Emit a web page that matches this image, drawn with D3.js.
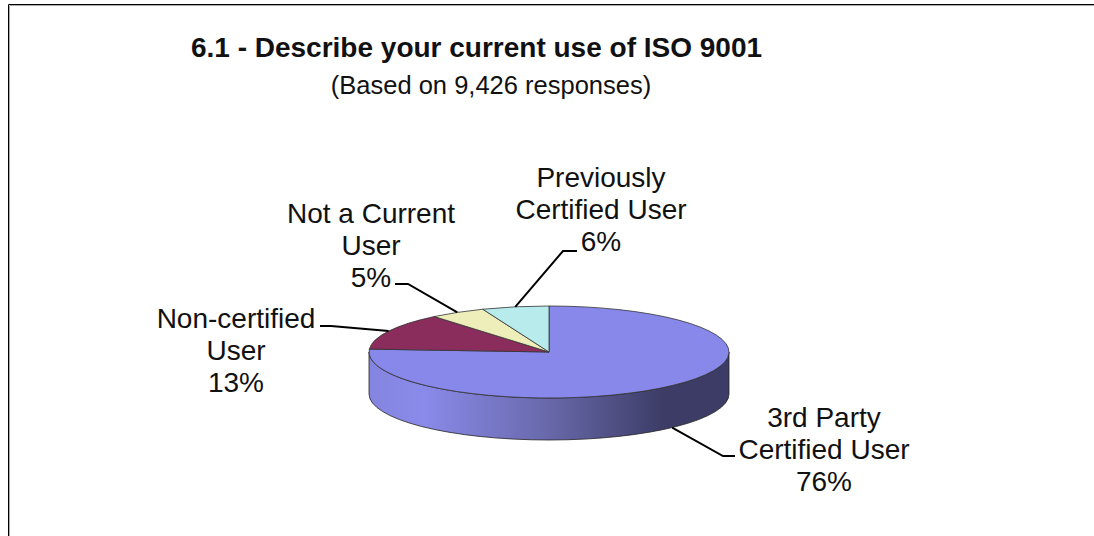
<!DOCTYPE html>
<html>
<head>
<meta charset="utf-8">
<script src="https://cdn.jsdelivr.net/npm/d3@7"></script>
<style>
  html, body { margin: 0; padding: 0; background: #fff; overflow: hidden; }
  svg { display: block; }
  text { font-family: "Liberation Sans", Arial, sans-serif; fill: #111; }
</style>
</head>
<body>
<svg id="chart" width="1094" height="536"></svg>
<script>
const title = "6.1 - Describe your current use of ISO 9001";
const subtitle = "(Based on 9,426 responses)";

const categories = [
    ["3rd Party", "Certified User"],
    ["Non-certified", "User"],
    ["Not a Current", "User"],
    ["Previously", "Certified User"]
];
const shares = [76, 13, 5, 6];
const colors = ["#8888ea", "#8a2c5c", "#eeeebb", "#b8ecec"];

// where each label block sits and where its leader bends
const labelX = [824, 236, 371, 601];
const labelY = [427, 328, 223, 187];
const elbows = [[[735, 456], [723, 456]], [[320, 326], [331, 326]], [[395, 284], [408, 284]], [[577, 251], [563, 251]]];

const cx = 549, cy = 352, rx = 180, ry = 46, depth = 42;
const lineGap = 32;

const svg = d3.select("#chart");

// frame, open on the right and at the bottom
svg.append("path").attr("d", "M1094,5.5H9.5V536").attr("fill", "none").attr("stroke", "#aaa");
svg.append("path").attr("d", "M1094,4.5H8.5V536").attr("fill", "none").attr("stroke", "#000");

svg.append("text")
    .attr("x", 476.5).attr("y", 57)
    .attr("text-anchor", "middle")
    .attr("font-size", 28).attr("font-weight", "bold")
    .text(title);

svg.append("text")
    .attr("x", 491).attr("y", 94)
    .attr("text-anchor", "middle")
    .attr("font-size", 25.5)
    .text(subtitle);

const grad = svg.append("defs").append("linearGradient")
    .attr("id", "wall")
    .attr("gradientUnits", "userSpaceOnUse")
    .attr("x1", cx - rx).attr("x2", cx + rx).attr("y1", 0).attr("y2", 0);
grad.selectAll("stop")
    .data([[0, "#8484e0"], [0.15, "#8a8aea"], [0.5, "#6868aa"], [0.82, "#3c3c66"], [1, "#3c3c66"]])
    .join("stop")
    .attr("offset", d => d[0])
    .attr("stop-color", d => d[1]);

// side of the disc
svg.append("path")
    .attr("d", `M${cx + rx},${cy}V${cy + depth}A${rx},${ry} 0 0 1 ${cx - rx},${cy + depth}V${cy}A${rx},${ry} 0 0 0 ${cx + rx},${cy}Z`)
    .attr("fill", "url(#wall)")
    .attr("stroke", "#222")
    .attr("stroke-width", 0.8);

const slices = d3.pie().sort(null).value(d => d)(shares);
const arc = d3.arc().innerRadius(0).outerRadius(rx);

svg.append("g")
    .attr("transform", `translate(${cx},${cy}) scale(1,${ry / rx})`)
    .selectAll("path")
    .data(slices)
    .join("path")
    .attr("d", arc)
    .attr("fill", (d, i) => colors[i])
    .attr("stroke", "#333")
    .attr("stroke-width", 0.8)
    .attr("vector-effect", "non-scaling-stroke");

// leaders run from the middle of each slice's outer edge
const leader = d3.line();
slices.forEach((d, i) => {
    const mid = (d.startAngle + d.endAngle) / 2;
    const ex = cx + rx * Math.sin(mid);
    const ey = cy - ry * Math.cos(mid) + (Math.cos(mid) < 0 ? depth : 0);
    svg.append("path")
        .attr("d", leader([...elbows[i], [ex, ey]]))
        .attr("fill", "none")
        .attr("stroke", "#000")
        .attr("stroke-width", 2);

    const lines = [...categories[i], shares[i] + "%"];
    svg.append("text")
        .attr("text-anchor", "middle")
        .attr("font-size", 28)
        .selectAll("tspan")
        .data(lines)
        .join("tspan")
        .attr("x", labelX[i])
        .attr("y", (t, j) => labelY[i] + j * lineGap)
        .text(t => t);
});
</script>
</body>
</html>
